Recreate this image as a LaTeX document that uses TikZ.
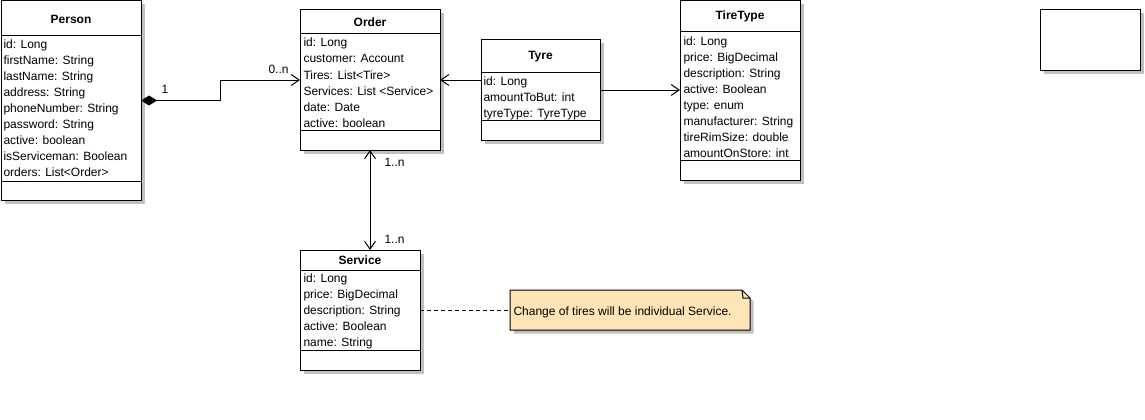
\documentclass[tikz,border=0pt]{standalone}
\usepackage{fontspec}
\setmainfont{Liberation Sans}
\usetikzlibrary{arrows.meta,shadows}
\definecolor{shad}{RGB}{192,192,192}
\definecolor{notefill}{RGB}{255,228,181}
\begin{document}
\begin{tikzpicture}[x=1pt,y=-1pt, line width=1pt,
  cls/.style={draw, fill=white, inner sep=0pt, outer sep=0pt, anchor=north west,
    drop shadow={shadow xshift=3.5pt, shadow yshift=-3.5pt, fill=shad, opacity=1}},
  ttl/.style={font=\fontsize{12}{14}\selectfont\bfseries, inner sep=0pt},
  attr/.style={font=\fontsize{12}{14}\selectfont, anchor=base west, inner sep=0pt},
  lbl/.style={font=\fontsize{12}{14}\selectfont, anchor=base west, inner sep=0pt},
  openarr/.style={-{Straight Barb[length=8pt,width=11pt]}},
  bothopen/.style={{Straight Barb[length=8pt,width=11pt]}-{Straight Barb[length=8pt,width=11pt]}},
  compos/.style={{Diamond[length=16pt,width=10pt]}-{Straight Barb[length=8pt,width=11pt]}},
  notelink/.style={dash pattern=on 4pt off 3pt}
]
\useasboundingbox (0,0) rectangle (1145,420);

% Person
\node[cls, minimum width=140pt, minimum height=199pt] (person) at (1,1) {};
\node[ttl] (person-t) at (71,19) {Person};
\draw (1,36) -- (141,36);
\draw (1,181) -- (141,181);
\foreach \t [count=\i from 0] in {id: Long, firstName: String, lastName: String, address: String, phoneNumber: String, password: String, active: boolean, isServiceman: Boolean, orders: List<Order>}
  \node[attr] (person-a\i) at (3,48.5+16*\i) {\t};

% Order
\node[cls, minimum width=140pt, minimum height=140pt] (order) at (300,10) {};
\node[ttl] (order-t) at (370,22.5) {Order};
\draw (300,34) -- (440,34);
\draw (300,130) -- (440,130);
\foreach \t [count=\i from 0] in {id: Long, customer: Account, Tires: List<Tire>, Services: List <Service>, date: Date, active: boolean}
  \node[attr] (order-a\i) at (303,47+16*\i) {\t};

% Tyre
\node[cls, minimum width=119pt, minimum height=100pt] (tyre) at (481,40) {};
\node[ttl] (tyre-t) at (540.5,56.5) {Tyre};
\draw (481,72) -- (600,72);
\draw (481,120) -- (600,120);
\foreach \t [count=\i from 0] in {id: Long, amountToBut: int, tyreType: TyreType}
  \node[attr] (tyre-a\i) at (483,85+16*\i) {\t};

% TireType
\node[cls, minimum width=120pt, minimum height=179pt] (tiretype) at (680,1) {};
\node[ttl] (tiretype-t) at (740,16.5) {TireType};
\draw (680,32) -- (800,32);
\draw (680,160) -- (800,160);
\foreach \t [count=\i from 0] in {id: Long, price: BigDecimal, description: String, active: Boolean, type: enum, manufacturer: String, tireRimSize: double, amountOnStore: int}
  \node[attr] (tiretype-a\i) at (683,45.5+16*\i) {\t};

% Service
\node[cls, minimum width=120pt, minimum height=120pt] (service) at (300,250) {};
\node[ttl] (service-t) at (360,260.5) {Service};
\draw (300,270) -- (420,270);
\draw (300,350) -- (420,350);
\foreach \t [count=\i from 0] in {id: Long, price: BigDecimal, description: String, active: Boolean, name: String}
  \node[attr] (service-a\i) at (303,282.5+16*\i) {\t};

% Empty box
\node[cls, minimum width=100pt, minimum height=60pt] (empty) at (1040,10) {};

% Note
\node[inner sep=0pt, outer sep=0pt, minimum width=240pt, minimum height=40pt, anchor=north west] (note) at (510,290) {};
\fill[shad] ([shift={(3.5pt,-3.5pt)}]note.north west) -- ([shift={(-4.5pt,-3.5pt)}]note.north east) -- ([shift={(3.5pt,-11.5pt)}]note.north east) -- ([shift={(3.5pt,-3.5pt)}]note.south east) -- ([shift={(3.5pt,-3.5pt)}]note.south west) -- cycle;
\filldraw[fill=notefill] (note.north west) -- ([xshift=-8pt]note.north east) -- ([yshift=-8pt]note.north east) -- (note.south east) -- (note.south west) -- cycle;
\draw ([xshift=-8pt]note.north east) -- ([xshift=-7pt,yshift=-8pt]note.north east) -- ([yshift=-8pt]note.north east);
\node[lbl] (note-t) at (513,315) {Change of tires will be individual Service.};

% Connectors
\draw[compos] (person.east) -- ++(79,0) |- (order.west);
\node[lbl] (l1) at (161,93.5) {1};
\node[lbl] (l0n) at (268,74) {0..n};

\draw[openarr] (tyre.west |- order.east) -- (order.east);
\draw[openarr] (tyre.east) -- (tiretype.west |- tyre.east);

\draw[bothopen] (order.south) -- (order.south |- service.north);
\node[lbl] (l1n-a) at (384,166) {1..n};
\node[lbl] (l1n-b) at (384,243.5) {1..n};

\draw[notelink] (service.east) -- (note.west);
\end{tikzpicture}
\end{document}
